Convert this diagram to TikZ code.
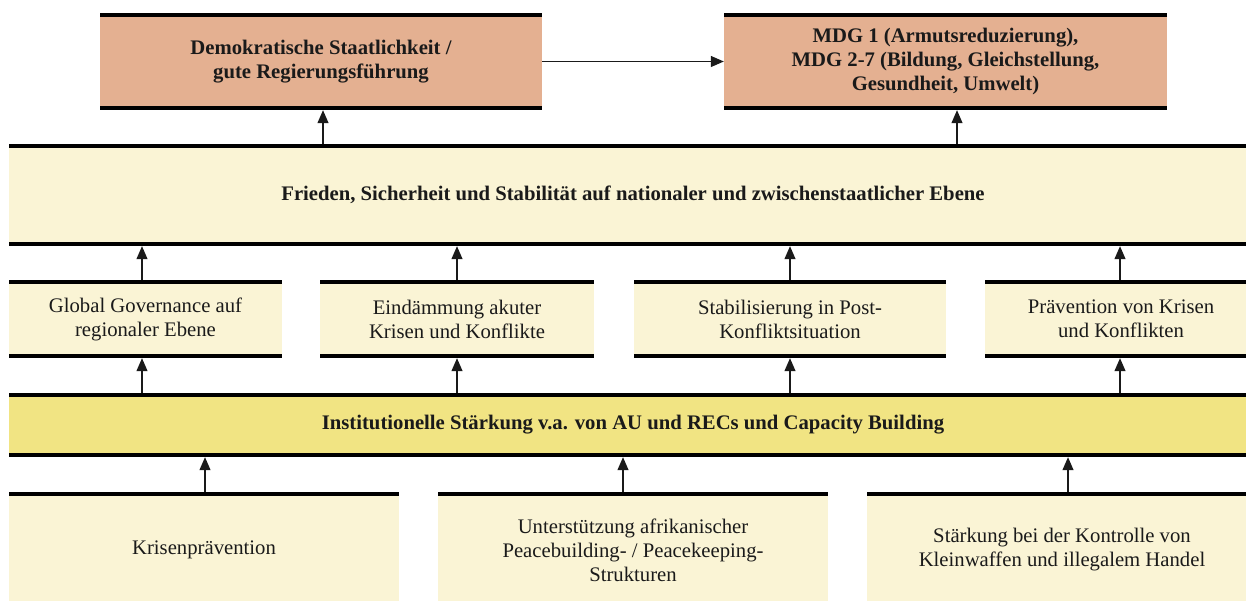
\documentclass[tikz,border=0pt]{standalone}
\usepackage{fontspec}
\setmainfont{Liberation Serif}
\usetikzlibrary{arrows.meta}
\definecolor{salmon}{HTML}{E4B091}
\definecolor{pale}{HTML}{FAF4D5}
\definecolor{gold}{HTML}{F1E483}
\definecolor{ink}{HTML}{1A1A1A}
\tikzset{
  base/.style={inner sep=0pt, align=center, text=ink,
    font=\fontsize{20.7}{24}\selectfont},
  twoline/.style={base, path picture={
      \draw[line width=4pt] ([yshift=-2pt]path picture bounding box.north west) -- ([yshift=-2pt]path picture bounding box.north east);
      \draw[line width=4pt] ([yshift=2pt]path picture bounding box.south west) -- ([yshift=2pt]path picture bounding box.south east);}},
  oneline/.style={base, path picture={
      \draw[line width=4pt] ([yshift=-2pt]path picture bounding box.north west) -- ([yshift=-2pt]path picture bounding box.north east);}},
  arr/.style={draw=ink, line width=1.2pt, -{Triangle[length=13pt,width=11pt]}},
  bld/.style={font=\fontsize{20.7}{24}\selectfont\bfseries}
}
\begin{document}
\begin{tikzpicture}[x=1pt,y=-1pt]
\useasboundingbox (0,0) rectangle (1246,601);
% top row
\node[twoline, bld, fill=salmon, minimum width=442pt, minimum height=97pt] (dem) at (321,61.5)
  {Demokratische Staatlichkeit /\\gute Regierungsführung};
\node[twoline, bld, fill=salmon, minimum width=443pt, minimum height=97pt] (mdg) at (945.5,61.5)
  {MDG 1 (Armutsreduzierung),\\MDG 2-7 (Bildung, Gleichstellung,\\Gesundheit, Umwelt)};
% Frieden
\node[twoline, bld, fill=pale, minimum width=1248pt, minimum height=102pt] (fr) at (633,195)
  {Frieden, Sicherheit und Stabilität auf nationaler und zwischenstaatlicher Ebene};
% second row
\node[twoline, fill=pale, minimum width=273pt, minimum height=78pt] (gg) at (145.5,319)
  {Global Governance auf\\regionaler Ebene};
\node[twoline, fill=pale, minimum width=274pt, minimum height=78pt] (ei) at (457,319)
  {Eindämmung akuter\\Krisen und Konflikte};
\node[twoline, fill=pale, minimum width=312pt, minimum height=78pt] (st) at (790,319)
  {Stabilisierung in Post-\\Konfliktsituation};
\node[twoline, fill=pale, minimum width=272pt, minimum height=78pt] (pr) at (1121,319)
  {Prävention von Krisen\\und Konflikten};
% Institutionelle
\node[twoline, bld, fill=gold, minimum width=1248pt, minimum height=64pt] (inst) at (633,425)
  {Institutionelle Stärkung v.a. von AU und RECs und Capacity Building};
% bottom row
\node[oneline, fill=pale, minimum width=390pt, minimum height=116pt] (kp) at (204,550)
  {Krisenprävention};
\node[oneline, fill=pale, minimum width=390pt, minimum height=116pt] (pb) at (633,550)
  {Unterstützung afrikanischer\\Peacebuilding- / Peacekeeping-\\Strukturen};
\node[oneline, fill=pale, minimum width=390pt, minimum height=116pt] (kw) at (1062,550)
  {Stärkung bei der Kontrolle von\\Kleinwaffen und illegalem Handel};
% connectors
\draw[arr] (dem.east) -- (mdg.west);
\draw[arr] ([xshift=2pt]dem.south |- fr.north) -- ([xshift=2pt]dem.south);
\draw[arr] ([xshift=11.5pt]mdg.south |- fr.north) -- ([xshift=11.5pt]mdg.south);
\draw[arr] ([xshift=-3.5pt]gg.north) -- ([xshift=-3.5pt]gg.north |- fr.south);
\draw[arr] (ei.north) -- (ei.north |- fr.south);
\draw[arr] (st.north) -- (st.north |- fr.south);
\draw[arr] ([xshift=-1pt]pr.north) -- ([xshift=-1pt]pr.north |- fr.south);
\draw[arr] ([xshift=-3.5pt]gg.south |- inst.north) -- ([xshift=-3.5pt]gg.south);
\draw[arr] (ei.south |- inst.north) -- (ei.south);
\draw[arr] (st.south |- inst.north) -- (st.south);
\draw[arr] ([xshift=-1pt]pr.south |- inst.north) -- ([xshift=-1pt]pr.south);
\draw[arr] ([xshift=1pt]kp.north) -- ([xshift=1pt]kp.north |- inst.south);
\draw[arr] ([xshift=-10pt]pb.north) -- ([xshift=-10pt]pb.north |- inst.south);
\draw[arr] ([xshift=6pt]kw.north) -- ([xshift=6pt]kw.north |- inst.south);
\end{tikzpicture}
\end{document}
